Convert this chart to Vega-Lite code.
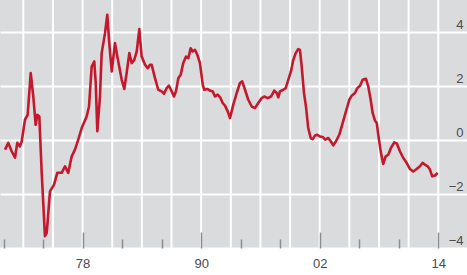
{
  "$schema": "https://vega.github.io/schema/vega-lite/v6.json",
  "width": 467,
  "height": 248,
  "autosize": {"type": "none"},
  "padding": {"left": 0, "top": 0, "right": 0, "bottom": 27},
  "background": "white",
  "config": {
    "view": {"fill": "#dadbdd", "stroke": null},
    "font": "Liberation Sans"
  },
  "datasets": {
    "grid": [
      {"yr": 1972}, {"yr": 1975}, {"yr": 1978}, {"yr": 1981}, {"yr": 1984}, {"yr": 1987}, {"yr": 1990}, {"yr": 1993},
      {"yr": 1996}, {"yr": 1999}, {"yr": 2002}, {"yr": 2005}, {"yr": 2008}, {"yr": 2011}, {"yr": 2014}
    ],
    "series": [
      {"t": 1970.15, "v": -0.35}, {"t": 1970.48, "v": -0.1}, {"t": 1970.82, "v": -0.41}, {"t": 1971.16, "v": -0.65},
      {"t": 1971.39, "v": -0.1}, {"t": 1971.66, "v": -0.23}, {"t": 1971.84, "v": -0.04}, {"t": 1972.17, "v": 0.76},
      {"t": 1972.44, "v": 0.94}, {"t": 1972.75, "v": 2.49}, {"t": 1973.01, "v": 1.62}, {"t": 1973.25, "v": 0.57},
      {"t": 1973.42, "v": 0.94}, {"t": 1973.62, "v": 0.88}, {"t": 1973.86, "v": -1.2}, {"t": 1974.19, "v": -3.56},
      {"t": 1974.37, "v": -3.44}, {"t": 1974.7, "v": -1.9}, {"t": 1975.11, "v": -1.65}, {"t": 1975.44, "v": -1.21},
      {"t": 1975.88, "v": -1.21}, {"t": 1976.22, "v": -0.97}, {"t": 1976.55, "v": -1.21}, {"t": 1976.9, "v": -0.6},
      {"t": 1977.23, "v": -0.35}, {"t": 1977.56, "v": 0.02}, {"t": 1977.91, "v": 0.45}, {"t": 1978.41, "v": 0.88},
      {"t": 1978.65, "v": 1.25}, {"t": 1978.92, "v": 2.73}, {"t": 1979.18, "v": 2.92}, {"t": 1979.33, "v": 2.12},
      {"t": 1979.49, "v": 0.33}, {"t": 1979.76, "v": 1.62}, {"t": 1979.93, "v": 3.23}, {"t": 1980.27, "v": 3.97},
      {"t": 1980.5, "v": 4.65}, {"t": 1980.7, "v": 3.6}, {"t": 1980.95, "v": 2.55}, {"t": 1981.28, "v": 3.6},
      {"t": 1981.55, "v": 3.04}, {"t": 1981.96, "v": 2.24}, {"t": 1982.22, "v": 1.9}, {"t": 1982.46, "v": 2.49},
      {"t": 1982.73, "v": 3.23}, {"t": 1982.97, "v": 2.86}, {"t": 1983.23, "v": 2.98}, {"t": 1983.48, "v": 3.29},
      {"t": 1983.74, "v": 4.12}, {"t": 1983.98, "v": 3.1}, {"t": 1984.32, "v": 2.8}, {"t": 1984.59, "v": 2.67},
      {"t": 1984.82, "v": 2.8}, {"t": 1984.99, "v": 2.8}, {"t": 1985.33, "v": 2.3}, {"t": 1985.66, "v": 1.87},
      {"t": 1986.01, "v": 1.81}, {"t": 1986.24, "v": 1.72}, {"t": 1986.51, "v": 1.93}, {"t": 1986.74, "v": 2.02},
      {"t": 1987.02, "v": 1.81}, {"t": 1987.25, "v": 1.62}, {"t": 1987.45, "v": 1.81}, {"t": 1987.69, "v": 2.3},
      {"t": 1987.93, "v": 2.43}, {"t": 1988.19, "v": 2.86}, {"t": 1988.47, "v": 3.1}, {"t": 1988.7, "v": 3.04},
      {"t": 1988.94, "v": 3.41}, {"t": 1989.14, "v": 3.29}, {"t": 1989.38, "v": 3.35}, {"t": 1989.61, "v": 3.17},
      {"t": 1989.88, "v": 2.86}, {"t": 1990.16, "v": 2.06}, {"t": 1990.32, "v": 1.87}, {"t": 1990.62, "v": 1.9},
      {"t": 1990.89, "v": 1.84}, {"t": 1991.17, "v": 1.81}, {"t": 1991.4, "v": 1.62}, {"t": 1991.67, "v": 1.69},
      {"t": 1991.91, "v": 1.6}, {"t": 1992.18, "v": 1.38}, {"t": 1992.41, "v": 1.28}, {"t": 1992.69, "v": 1.07},
      {"t": 1992.92, "v": 0.82}, {"t": 1993.25, "v": 1.31}, {"t": 1993.6, "v": 1.75}, {"t": 1993.93, "v": 2.12},
      {"t": 1994.16, "v": 2.18}, {"t": 1994.44, "v": 1.87}, {"t": 1994.77, "v": 1.5}, {"t": 1995.12, "v": 1.25},
      {"t": 1995.45, "v": 1.19}, {"t": 1995.78, "v": 1.38}, {"t": 1996.13, "v": 1.56}, {"t": 1996.39, "v": 1.62},
      {"t": 1996.73, "v": 1.56}, {"t": 1997.07, "v": 1.62}, {"t": 1997.4, "v": 1.84}, {"t": 1997.65, "v": 1.75},
      {"t": 1997.81, "v": 1.59}, {"t": 1997.98, "v": 1.81}, {"t": 1998.31, "v": 1.87}, {"t": 1998.56, "v": 1.93},
      {"t": 1998.82, "v": 2.24}, {"t": 1999.09, "v": 2.55}, {"t": 1999.33, "v": 2.98}, {"t": 1999.57, "v": 3.23},
      {"t": 1999.83, "v": 3.38}, {"t": 2000.0, "v": 3.35}, {"t": 2000.18, "v": 2.73}, {"t": 2000.41, "v": 1.75},
      {"t": 2000.61, "v": 1.25}, {"t": 2000.84, "v": 0.45}, {"t": 2001.09, "v": 0.08}, {"t": 2001.29, "v": 0.04},
      {"t": 2001.52, "v": 0.17}, {"t": 2001.75, "v": 0.2}, {"t": 2002.03, "v": 0.14}, {"t": 2002.3, "v": 0.12},
      {"t": 2002.56, "v": 0.02}, {"t": 2002.87, "v": 0.08}, {"t": 2003.11, "v": -0.04}, {"t": 2003.37, "v": -0.19},
      {"t": 2003.65, "v": -0.04}, {"t": 2003.98, "v": 0.2}, {"t": 2004.33, "v": 0.64}, {"t": 2004.66, "v": 1.07},
      {"t": 2005.0, "v": 1.5}, {"t": 2005.24, "v": 1.65}, {"t": 2005.57, "v": 1.75}, {"t": 2005.81, "v": 1.93},
      {"t": 2006.08, "v": 2.02}, {"t": 2006.35, "v": 2.24}, {"t": 2006.68, "v": 2.28}, {"t": 2006.92, "v": 1.99},
      {"t": 2007.16, "v": 1.5}, {"t": 2007.36, "v": 1.01}, {"t": 2007.59, "v": 0.73}, {"t": 2007.77, "v": 0.64},
      {"t": 2008.0, "v": 0.02}, {"t": 2008.2, "v": -0.47}, {"t": 2008.43, "v": -0.88}, {"t": 2008.68, "v": -0.6},
      {"t": 2008.94, "v": -0.54}, {"t": 2009.21, "v": -0.29}, {"t": 2009.55, "v": -0.08}, {"t": 2009.82, "v": -0.13},
      {"t": 2010.12, "v": -0.41}, {"t": 2010.46, "v": -0.66}, {"t": 2010.8, "v": -0.84}, {"t": 2011.14, "v": -1.07},
      {"t": 2011.47, "v": -1.16}, {"t": 2011.81, "v": -1.07}, {"t": 2012.15, "v": -0.97}, {"t": 2012.42, "v": -0.84},
      {"t": 2012.66, "v": -0.91}, {"t": 2012.93, "v": -0.97}, {"t": 2013.16, "v": -1.09}, {"t": 2013.39, "v": -1.34},
      {"t": 2013.67, "v": -1.31}, {"t": 2013.94, "v": -1.21}
    ]
  },
  "layer": [
    {
      "data": {"name": "grid"},
      "mark": {"type": "rule", "color": "white", "strokeWidth": 2},
      "encoding": {
        "x": {
          "field": "yr", "type": "quantitative",
          "scale": {"domain": [1969.64, 2016.91], "nice": false, "zero": false}
        }
      }
    },
    {
      "mark": {"type": "rule", "color": "#8a8a8a", "strokeWidth": 2},
      "encoding": {
        "y": {
          "datum": 0, "type": "quantitative",
          "scale": {"domain": [-4, 5.2], "nice": false, "zero": false},
          "axis": {
            "orient": "right", "values": [-4, -2, 0, 2, 4], "title": null,
            "ticks": false, "domain": false, "grid": true, "gridColor": "white", "gridWidth": 2,
            "labelAlign": "right", "labelPadding": -4, "labelBaseline": "alphabetic", "labelOffset": -4,
            "labelFontSize": 13, "labelColor": "#4a4a50", "labelFlush": false, "labelOverlap": false, "labelBound": false
          }
        }
      }
    },
    {
      "data": {"name": "series"},
      "mark": {"type": "line", "color": "#c4182c", "strokeWidth": 2.6, "strokeJoin": "round"},
      "encoding": {
        "x": {
          "field": "t", "type": "quantitative",
          "scale": {"domain": [1969.64, 2016.91], "nice": false, "zero": false},
          "axis": {
            "orient": "bottom", "zindex": 1,
            "values": [1970,1971,1972,1973,1974,1975,1976,1977,1978,1979,1980,1981,1982,1983,1984,1985,1986,1987,1988,1989,1990,1991,1992,1993,1994,1995,1996,1997,1998,1999,2000,2001,2002,2003,2004,2005,2006,2007,2008,2009,2010,2011,2012,2013,2014],
            "title": null, "domain": false, "grid": false,
            "tickSize": {"condition": {"test": "(datum.value - 1972) % 3 === 0", "value": -16}, "value": -9},
            "tickColor": "#8c8c8c", "tickWidth": 1.5,
            "labelPadding": 9, "labelFontSize": 13, "labelColor": "#4a4a50", "labelFlush": false, "labelOverlap": false,
            "labelLineHeight": 16,
            "labelExpr": "(datum.value - 1972) % 3 === 0 ? ['', (datum.value % 100 < 10 ? '0' : '') + (datum.value % 100)] : ''"
          }
        },
        "y": {
          "field": "v", "type": "quantitative",
          "scale": {"domain": [-4, 5.2], "nice": false, "zero": false}
        }
      }
    }
  ]
}
